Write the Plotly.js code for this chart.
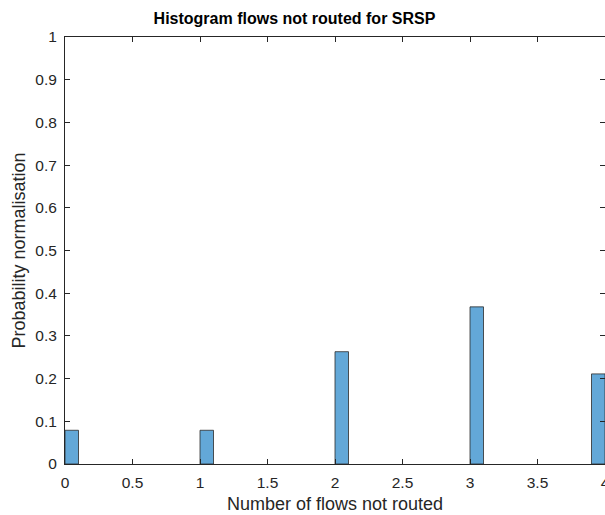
<!DOCTYPE html>
<html>
<head>
<meta charset="utf-8">
<script src="https://cdn.plot.ly/plotly-3.0.1.min.js"></script>
<style>
html,body{margin:0;padding:0;overflow:hidden;background:#fff;}
#chart{width:612px;height:515px;}
</style>
</head>
<body>
<div id="chart"></div>
<script>
// Bin left edges (bin width 0.1) and probability-normalised heights
var binStarts = [0, 1, 2, 3, 3.9];
var probabilities = [0.079, 0.079, 0.263, 0.368, 0.211];
var binWidth = 0.1;
var xTickVals = [0, 0.5, 1, 1.5, 2, 2.5, 3, 3.5, 4];
var xTickText = ['0', '0.5', '1', '1.5', '2', '2.5', '3', '3.5', '4'];
var yTickVals = [0, 0.1, 0.2, 0.3, 0.4, 0.5, 0.6, 0.7, 0.8, 0.9, 1];
var yTickText = ['0', '0.1', '0.2', '0.3', '0.4', '0.5', '0.6', '0.7', '0.8', '0.9', '1'];

var trace = {
  type: 'bar',
  x: binStarts,
  y: probabilities,
  width: binStarts.map(function(){return binWidth;}),
  offset: 0,
  marker: {color: '#63A8D8', line: {color: '#2b2b2b', width: 0.8}},
  hoverinfo: 'x+y'
};

var fam = 'Liberation Sans, Arial, sans-serif';
var axisFont = {family: fam, size: 15.5, color: '#262626'};

var layout = {
  width: 612,
  height: 515,
  margin: {l: 65, r: 7, t: 37, b: 51, pad: 0},
  paper_bgcolor: '#ffffff',
  plot_bgcolor: '#ffffff',
  showlegend: false,
  bargap: 0,
  title: {
    text: '<b>Histogram flows not routed for SRSP</b>',
    font: {family: fam, size: 16, color: '#000000'},
    x: 0.425, xref: 'paper', xanchor: 'center',
    y: 20, yref: 'container', yanchor: 'middle'
  },
  xaxis: {
    range: [0, 4],
    tickmode: 'array', tickvals: xTickVals, ticktext: xTickText,
    ticks: 'inside', ticklen: 5, tickwidth: 1, tickcolor: '#262626',
    ticklabelstandoff: 4,
    showline: true, linecolor: '#262626', linewidth: 1, mirror: 'ticks',
    showgrid: false, zeroline: false,
    tickfont: axisFont,
    title: {text: 'Number of flows not routed', font: {family: fam, size: 18, color: '#262626'}, standoff: 7}
  },
  yaxis: {
    range: [0, 1],
    tickmode: 'array', tickvals: yTickVals, ticktext: yTickText,
    ticks: 'inside', ticklen: 5, tickwidth: 1, tickcolor: '#262626',
    ticklabelstandoff: 4,
    showline: true, linecolor: '#262626', linewidth: 1, mirror: 'ticks',
    showgrid: false, zeroline: false,
    tickfont: axisFont,
    title: {text: 'Probability normalisation', font: {family: fam, size: 18, color: '#262626'}, standoff: 5}
  }
};

Plotly.newPlot('chart', [trace], layout, {displayModeBar: false, staticPlot: true});
</script>
</body>
</html>
